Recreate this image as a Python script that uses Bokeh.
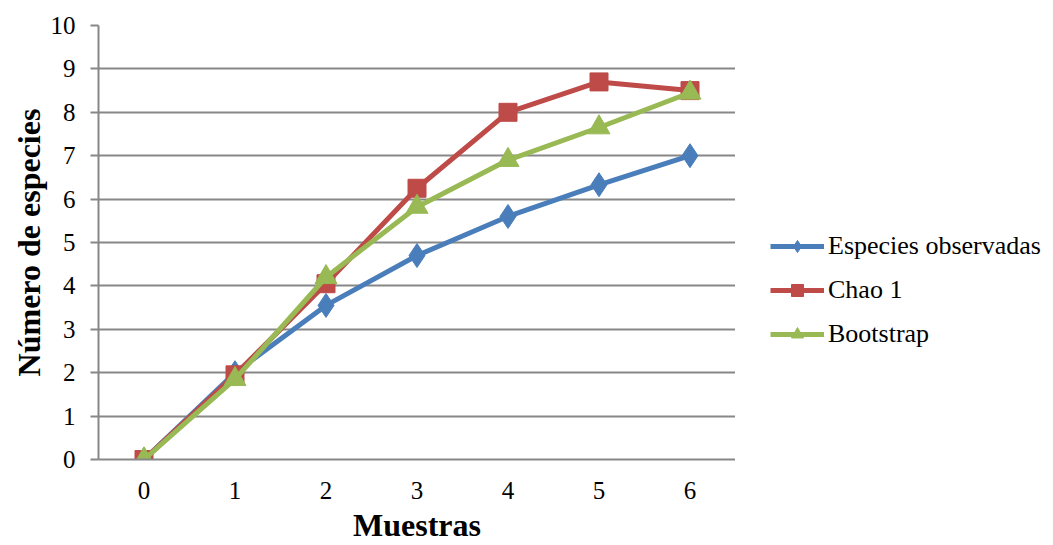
from bokeh.plotting import figure
from bokeh.layouts import row
from bokeh.models import Range1d, FixedTicker, Legend, LegendItem
from bokeh.embed import file_html
from bokeh.resources import INLINE

muestras = [0, 1, 2, 3, 4, 5, 6]
observadas = [0, 2.0, 3.55, 4.7, 5.6, 6.33, 7.0]
chao1 = [0, 1.95, 4.05, 6.25, 8.0, 8.7, 8.5]
bootstrap = [0, 1.85, 4.2, 5.82, 6.9, 7.65, 8.45]
y_ticks = [0, 1, 2, 3, 4, 5, 6, 7, 8, 9, 10]
series_names = ["Especies observadas", "Chao 1", "Bootstrap"]

FONT = "Liberation Serif"
GRID = "#878787"
BLUE = "#4A7EBB"
RED = "#BE4B48"
GREEN = "#98B954"

p = figure(width=735, height=545, output_backend="svg", toolbar_location=None,
           x_range=Range1d(-0.5, 6.5), y_range=Range1d(0, 10),
           min_border_left=98, min_border_right=0, min_border_top=25, min_border_bottom=85)
p.outline_line_color = None
p.background_fill_color = "white"
p.border_fill_color = "white"

p.xgrid.visible = False
p.ygrid.grid_line_color = GRID
p.ygrid.grid_line_width = 2
p.yaxis.ticker = FixedTicker(ticks=y_ticks)
p.xaxis.ticker = FixedTicker(ticks=muestras)

p.xaxis.axis_line_color = GRID
p.xaxis.axis_line_width = 2
p.xaxis.major_tick_line_color = None
p.xaxis.minor_tick_line_color = None
p.xaxis.major_label_standoff = 16
p.xaxis.axis_label = "Muestras"
p.xaxis.axis_label_standoff = 5

p.yaxis.axis_line_color = GRID
p.yaxis.axis_line_width = 2
p.yaxis.major_tick_line_color = GRID
p.yaxis.major_tick_line_width = 2
p.yaxis.major_tick_out = 8
p.yaxis.major_tick_in = 0
p.yaxis.minor_tick_line_color = None
p.yaxis.major_label_standoff = 15
p.yaxis.axis_label = "Número de especies"
p.yaxis.axis_label_standoff = 1

for ax in (p.xaxis, p.yaxis):
    ax.major_label_text_font = FONT
    ax.major_label_text_font_size = "25px"
    ax.major_label_text_color = "black"
    ax.axis_label_text_font = FONT
    ax.axis_label_text_font_size = "32px"
    ax.axis_label_text_font_style = "bold"
    ax.axis_label_text_color = "black"


def draw_series(fig):
    r = []
    r.append((fig.line(muestras, observadas, line_color=BLUE, line_width=5),
              fig.scatter(muestras, observadas, marker="diamond", size=24, fill_color=BLUE, line_color=BLUE)))
    r.append((fig.line(muestras, chao1, line_color=RED, line_width=5),
              fig.scatter(muestras, chao1, marker="square", size=18, fill_color=RED, line_color=RED)))
    r.append((fig.line(muestras, bootstrap, line_color=GREEN, line_width=5),
              fig.scatter(muestras, bootstrap, marker="triangle", size=22, fill_color=GREEN, line_color=GREEN)))
    return r


draw_series(p)

# legend panel to the right of the chart
p2 = figure(width=318, height=545, output_backend="svg", toolbar_location=None,
            x_range=Range1d(100, 101), y_range=Range1d(100, 101),
            min_border_left=0, min_border_right=0, min_border_top=0, min_border_bottom=0)
p2.axis.visible = False
p2.grid.visible = False
p2.outline_line_color = None
p2.background_fill_color = "white"
p2.border_fill_color = "white"

leg_r = draw_series(p2)
legend = Legend(items=[LegendItem(label=n, renderers=list(rr)) for n, rr in zip(series_names, leg_r)],
                location=(35, 110))
legend.label_text_font = FONT
legend.label_text_font_size = "26px"
legend.label_text_color = "black"
legend.glyph_width = 54
legend.glyph_height = 30
legend.label_height = 30
legend.spacing = 14
legend.label_standoff = 4
legend.padding = 5
legend.margin = 0
legend.border_line_color = None
legend.background_fill_alpha = 0
p2.add_layout(legend, "center")

open("out.html", "w").write(file_html(row(p, p2), INLINE))
